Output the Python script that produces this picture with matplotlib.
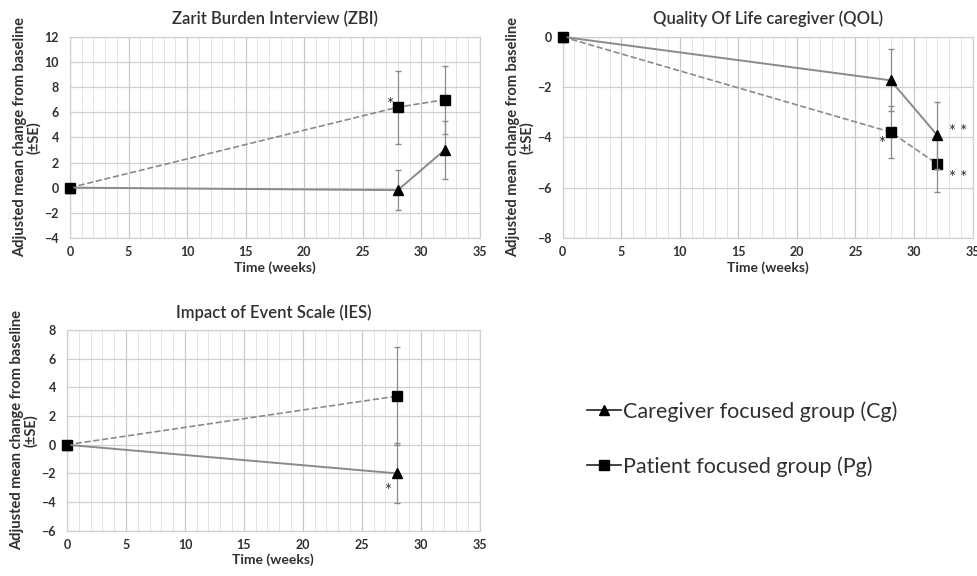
import matplotlib
matplotlib.use("Agg")
import matplotlib.pyplot as plt
from matplotlib.lines import Line2D
from matplotlib.ticker import MultipleLocator

plt.rcParams['font.family'] = ['Lato', 'DejaVu Sans']
plt.rcParams['font.weight'] = 'bold'

# ---- data ----
zbi_weeks = [0, 28, 32]
zbi_cg = [0, -0.2, 3.0]
zbi_cg_se = [0, 1.6, 2.3]
zbi_pg = [0, 6.4, 7.0]
zbi_pg_se = [0, 2.9, 2.7]

qol_weeks = [0, 28, 32]
qol_cg = [0, -1.73, -3.92]
qol_cg_se = [0, 1.24, 1.33]
qol_pg = [0, -3.79, -5.06]
qol_pg_se = [0, 1.05, 1.1]

ies_weeks = [0, 28]
ies_cg = [0, -2.0]
ies_cg_se = [0, 2.1]
ies_pg = [0, 3.4]
ies_pg_se = [0, 3.4]

titles = ["Zarit Burden Interview (ZBI)", "Quality Of Life caregiver (QOL)", "Impact of Event Scale (IES)"]
ylabel = "Adjusted mean change from baseline\n(±SE)"
xlabel = "Time (weeks)"
legend_labels = ["Caregiver focused group (Cg)", "Patient focused group (Pg)"]

line_col = "#8a8a8a"
txt_col = "#303030"

fig = plt.figure(figsize=(9.78, 5.76), dpi=100)

def panel(rect, title, weeks, cg, cg_se, pg, pg_se, ylim, ystep, notes):
    ax = fig.add_axes(rect)
    ax.set_xlim(0, 35)
    ax.set_ylim(*ylim)
    ax.xaxis.set_major_locator(MultipleLocator(5))
    ax.xaxis.set_minor_locator(MultipleLocator(1))
    ax.yaxis.set_major_locator(MultipleLocator(ystep))
    ax.grid(True, which='major', axis='x', color='#c8c8c8', lw=0.9)
    ax.grid(True, which='minor', axis='x', color='#e4e4e4', lw=0.7)
    ax.grid(True, which='major', axis='y', color='#d0d0d0', lw=0.9)
    ax.set_axisbelow(True)
    for s in ax.spines.values():
        s.set_color('#d0d0d0')
        s.set_linewidth(0.9)
    ax.tick_params(which='both', length=0, labelsize=9, colors=txt_col)
    ax.tick_params(axis='y', pad=8)
    ax.tick_params(axis='x', pad=6)
    eb1 = ax.errorbar(weeks, pg, yerr=pg_se, color=line_col, ls='--', lw=1.2,
                      marker='s', ms=7, mfc='black', mec='black', ecolor=line_col,
                      elinewidth=0.9, capsize=2, zorder=3)
    eb2 = ax.errorbar(weeks, cg, yerr=cg_se, color=line_col, ls='-', lw=1.4,
                      marker='^', ms=7, mfc='black', mec='black', ecolor=line_col,
                      elinewidth=0.9, capsize=2, zorder=4)
    for eb in (eb1, eb2):
        eb[0].set_clip_on(False)
    for (x, y, t) in notes:
        ax.text(x, y, t, ha='center', va='center', fontsize=12,
                fontweight='normal', color=txt_col)
    ax.set_title(title, fontsize=12, fontweight='semibold', color=txt_col, pad=9)
    ax.set_xlabel(xlabel, fontsize=10, fontweight='bold', color=txt_col, labelpad=2)
    ax.set_ylabel(ylabel, fontsize=10.5, fontweight='bold', color=txt_col, labelpad=2,
                  linespacing=1.0)
    return ax

panel([0.0716, 0.587, 0.419, 0.349], titles[0], zbi_weeks, zbi_cg, zbi_cg_se,
      zbi_pg, zbi_pg_se, (-4, 12), 2, [(27.3, 6.6, '*')])
panel([0.5754, 0.587, 0.419, 0.349], titles[1], qol_weeks, qol_cg, qol_cg_se,
      qol_pg, qol_pg_se, (-8, 0), 2,
      [(27.2, -4.25, '*'), (33.8, -3.8, '* *'), (33.8, -5.6, '* *')])
panel([0.0685, 0.0787, 0.422, 0.348], titles[2], ies_weeks, ies_cg, ies_cg_se,
      ies_pg, ies_pg_se, (-6, 8), 2, [(27.2, -3.2, '*')])

handles = [
    Line2D([], [], color='#202020', lw=1.2, marker='^', ms=7, mfc='black', mec='black'),
    Line2D([], [], color='#202020', lw=1.2, marker='s', ms=7, mfc='black', mec='black'),
]
leg = fig.legend(handles, legend_labels, loc='center left', bbox_to_anchor=(0.580, 0.238),
                 frameon=False, fontsize=15.5, handlelength=1.6, handletextpad=0.1,
                 labelspacing=1.6, labelcolor=txt_col)
for t in leg.get_texts():
    t.set_fontweight('normal')

fig.savefig("out.png", dpi=100, facecolor='white')
